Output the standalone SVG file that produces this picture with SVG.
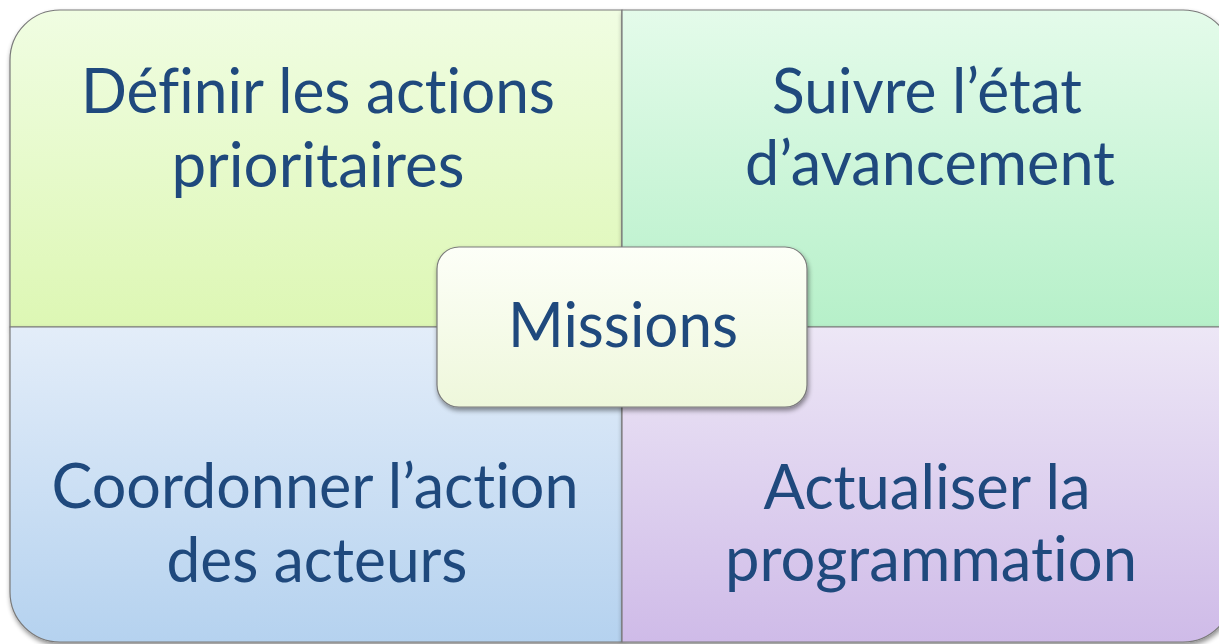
<svg xmlns="http://www.w3.org/2000/svg" width="1219" height="644" viewBox="0 0 1219 644">
<defs>
<linearGradient id="gTL" x1="0" y1="0" x2="0" y2="1"><stop offset="0" stop-color="#f0fde2"/><stop offset="1" stop-color="#ddf7b4"/></linearGradient>
<linearGradient id="gTR" x1="0" y1="0" x2="0" y2="1"><stop offset="0" stop-color="#e4fbea"/><stop offset="1" stop-color="#b6f0c9"/></linearGradient>
<linearGradient id="gBL" x1="0" y1="0" x2="0" y2="1"><stop offset="0" stop-color="#e3edf9"/><stop offset="1" stop-color="#b5d2ef"/></linearGradient>
<linearGradient id="gBR" x1="0" y1="0" x2="0" y2="1"><stop offset="0" stop-color="#ede7f6"/><stop offset="1" stop-color="#cfbbe8"/></linearGradient>
<linearGradient id="gC" x1="0" y1="0" x2="0" y2="1"><stop offset="0" stop-color="#fdfff8"/><stop offset="1" stop-color="#eef7db"/></linearGradient>
<filter id="sh" x="-10%" y="-10%" width="120%" height="125%">
<feGaussianBlur in="SourceAlpha" stdDeviation="2.5"/>
<feOffset dx="1" dy="3" result="b"/>
<feComponentTransfer><feFuncA type="linear" slope="0.45"/></feComponentTransfer>
<feMerge><feMergeNode/><feMergeNode in="SourceGraphic"/></feMerge>
</filter>
</defs>
<style>
.q{stroke:#7a7a7a;stroke-width:1.2;filter:url(#sh)}
.t{font-family:Lato,"Open Sans",sans-serif;font-size:62px;fill:#1f497d;text-anchor:middle;font-variant-ligatures:none;font-feature-settings:"liga" 0,"clig" 0}
</style>
<g id="tl"><path class="q" fill="url(#gTL)" d="M10,327 V60 A50,50 0 0 1 60,10 H622 V327 Z"/>
<text class="t" x="318" y="113" textLength="474" lengthAdjust="spacingAndGlyphs">Définir les actions</text>
<text class="t" x="318" y="187" textLength="293" lengthAdjust="spacingAndGlyphs">prioritaires</text></g>
<g id="tr"><path class="q" fill="url(#gTR)" d="M622,10 H1183 A50,50 0 0 1 1233,60 V327 H622 Z"/>
<text class="t" x="927" y="113" textLength="310" lengthAdjust="spacingAndGlyphs">Suivre l’état</text>
<text class="t" x="930" y="185" textLength="370" lengthAdjust="spacingAndGlyphs">d’avancement</text></g>
<g id="bl"><path class="q" fill="url(#gBL)" d="M10,327 H622 V642 H60 A50,50 0 0 1 10,592 Z"/>
<text class="t" x="315" y="508" textLength="527" lengthAdjust="spacingAndGlyphs">Coordonner l’action</text>
<text class="t" x="317" y="582" textLength="301" lengthAdjust="spacingAndGlyphs">des acteurs</text></g>
<g id="br"><path class="q" fill="url(#gBR)" d="M622,327 H1233 V592 A50,50 0 0 1 1183,642 H622 Z"/>
<text class="t" x="927" y="509" textLength="327" lengthAdjust="spacingAndGlyphs">Actualiser la</text>
<text class="t" x="931" y="581" textLength="412" lengthAdjust="spacingAndGlyphs">programmation</text></g>
<g id="center"><rect class="q" x="437" y="247" width="370" height="160" rx="22" fill="url(#gC)"/>
<text class="t" x="623" y="347" textLength="230" lengthAdjust="spacingAndGlyphs">Missions</text></g>
</svg>
